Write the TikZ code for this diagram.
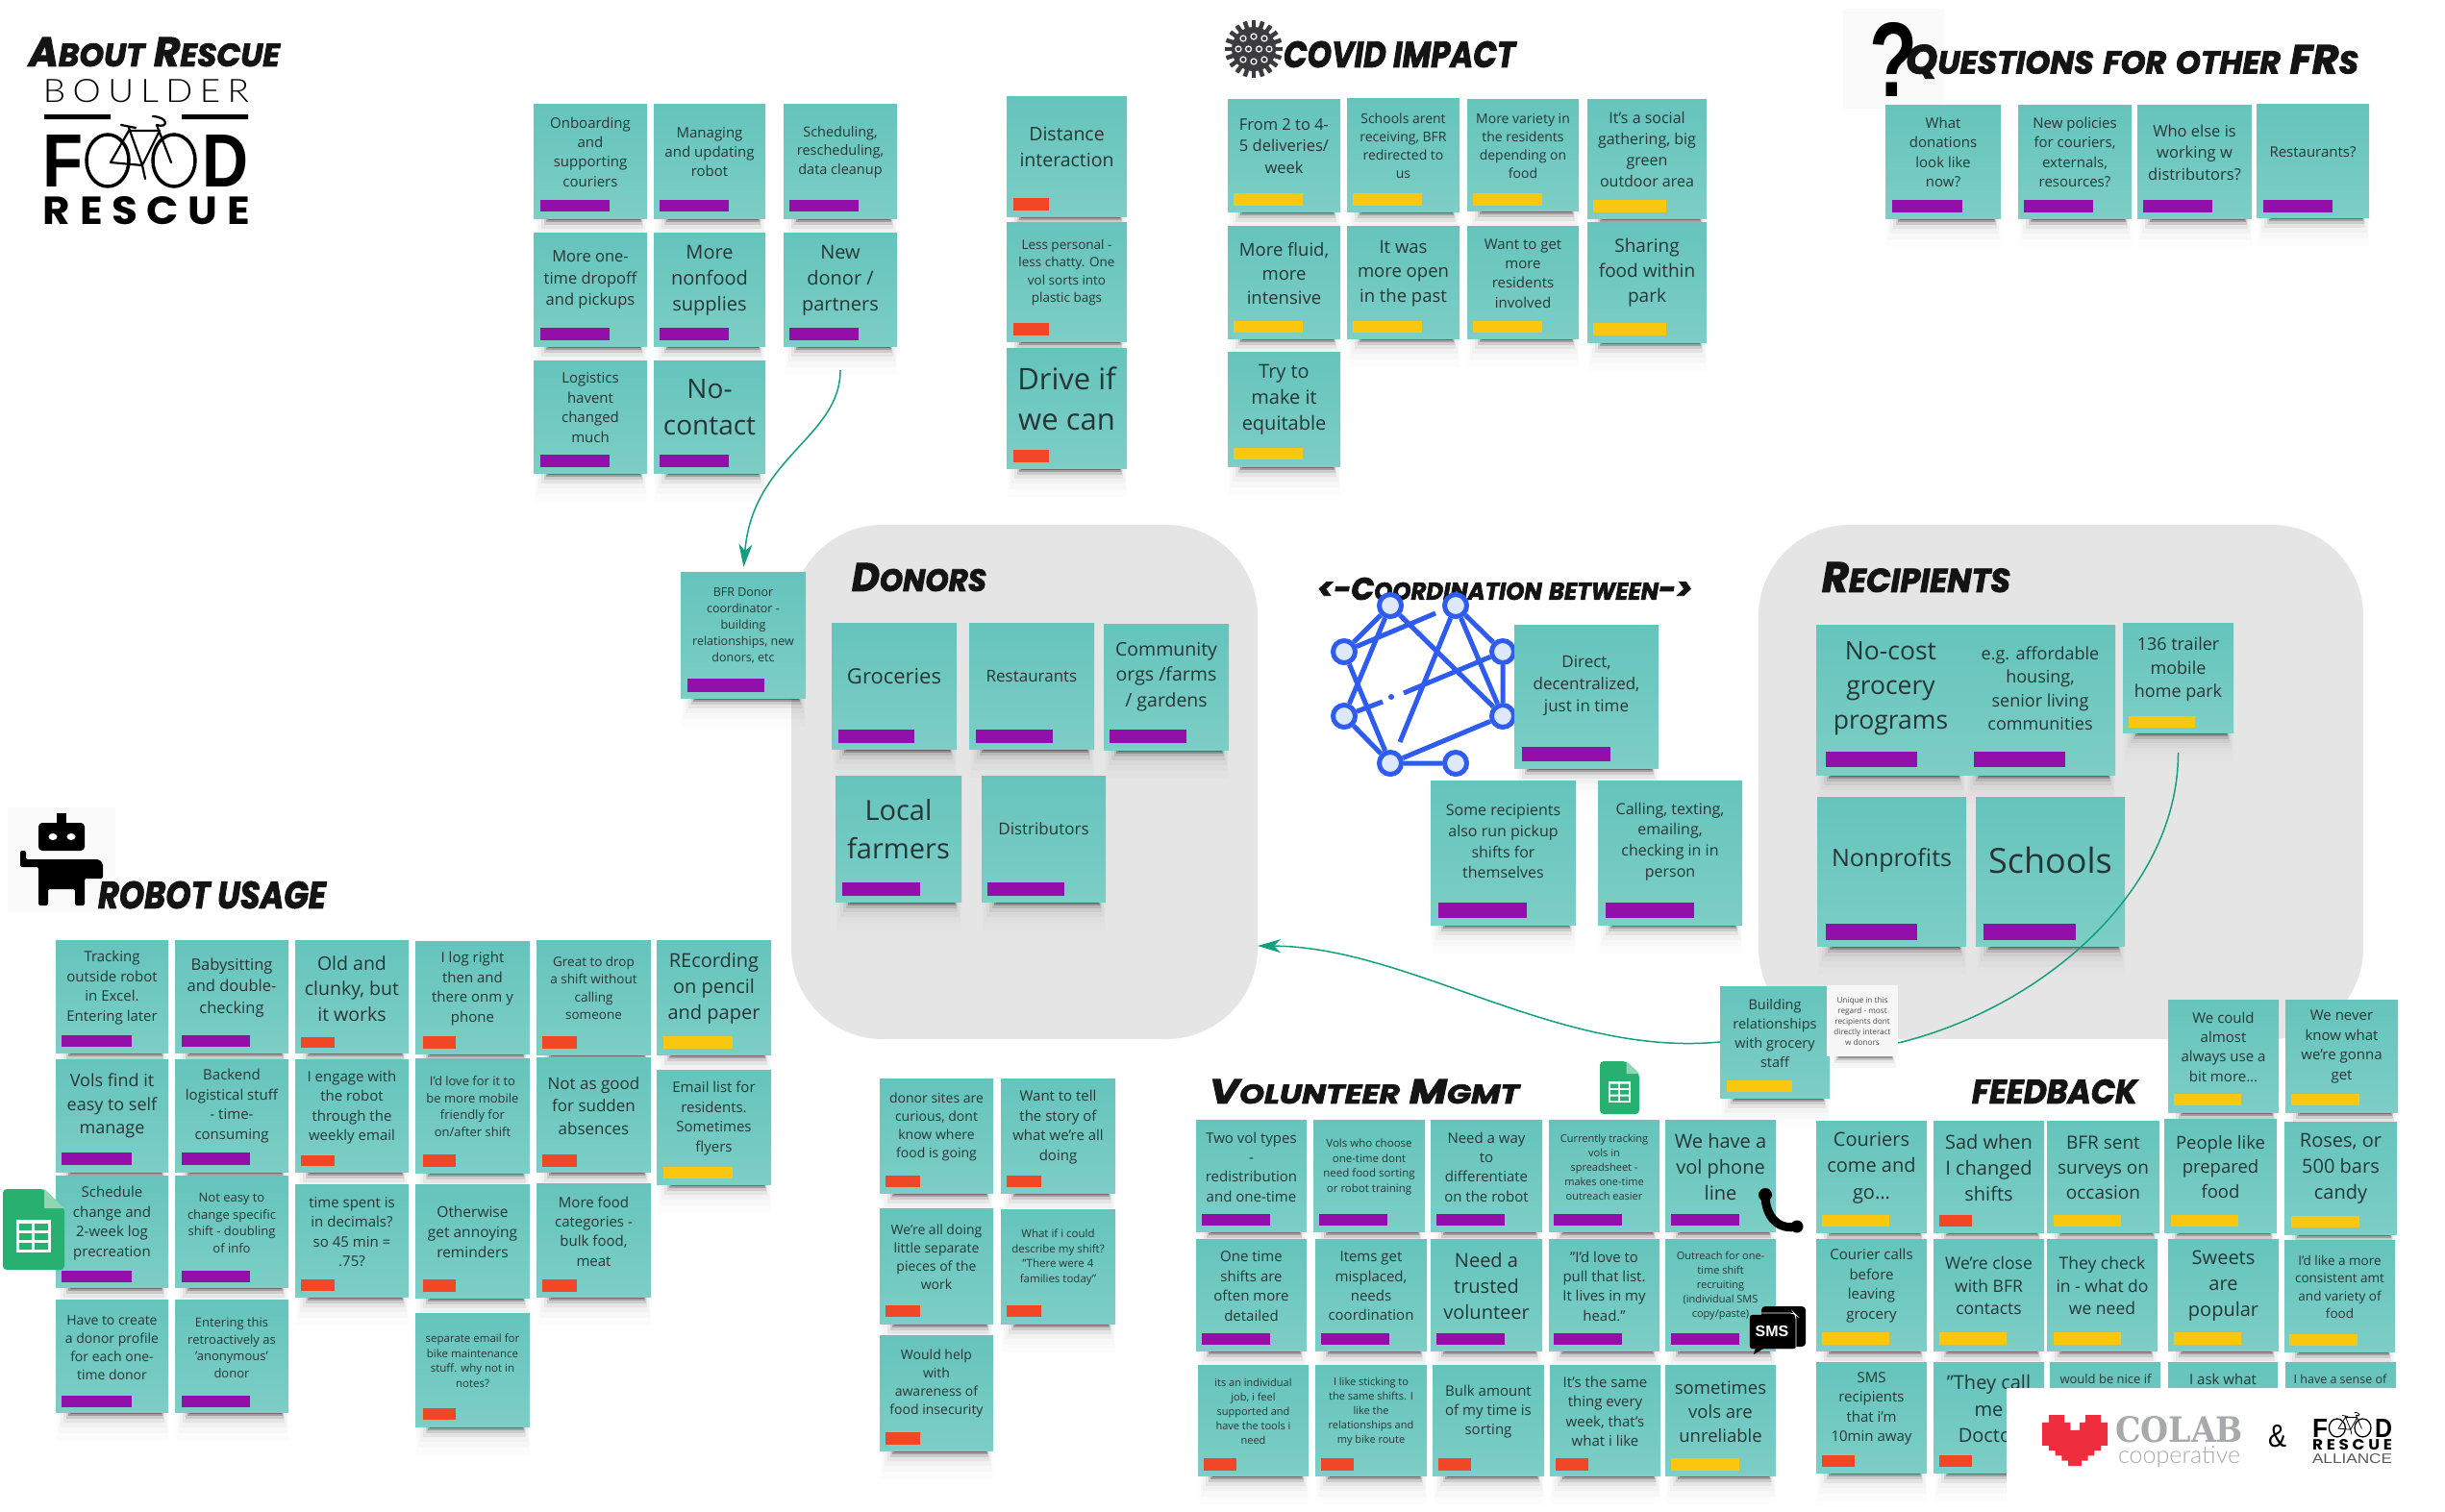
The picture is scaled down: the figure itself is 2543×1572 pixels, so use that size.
\documentclass[tikz,border=0pt]{standalone}
\usepackage{fontspec}
\usepackage{graphicx}
\usetikzlibrary{calc,arrows.meta}
\setmainfont{Open Sans}
\newfontfamily\ttlfont[BoldItalicFeatures={FakeBold=2.5}]{Poppins}
\newfontfamily\lightlogo[LetterSpace=20]{Lato Light}
\newfontfamily\boldlogo[LetterSpace=22]{Poppins}
\newfontfamily\colabf{DejaVu Serif}
\newfontfamily\coopf{Lato Light}
\newfontfamily\heavyf{Liberation Sans}
\definecolor{stop}{HTML}{65C4BC}
\definecolor{sbot}{HTML}{7CCEC6}
\definecolor{stxt}{HTML}{263636}
\definecolor{tagP}{HTML}{9210A9}
\definecolor{tagR}{HTML}{F24726}
\definecolor{tagY}{HTML}{FAC710}
\definecolor{regiongrey}{HTML}{E5E5E5}
\definecolor{link}{HTML}{12A07F}
\definecolor{netblue}{HTML}{2F5CF0}
\definecolor{netpale}{HTML}{DDE8FB}
\definecolor{sheetG}{HTML}{27B06F}
\definecolor{sheetL}{HTML}{8FD6B4}
\definecolor{heart}{HTML}{EE2E3E}
\definecolor{colabgrey}{HTML}{A7A9AC}
\definecolor{virusgrey}{HTML}{3C3C3E}
\definecolor{hatch}{HTML}{FAFAFA}
\tikzset{
 region/.style={fill=regiongrey,rounded corners=95pt,inner sep=0pt,outer sep=0pt},
 stickybg/.style={top color=stop,bottom color=sbot,inner sep=0pt,outer sep=0pt},
 stickytext/.style={text=stxt,align=center,inner sep=0pt},
 tagbox/.style={inner sep=0pt,outer sep=0pt},
 titlenode/.style={inner sep=0pt,outer sep=0pt,text=black!92},
 netnode/.style={circle,draw=netblue,line width=5pt,fill=netpale,minimum size=23pt,inner sep=0pt},
 netline/.style={draw=netblue,line width=5pt},
 connector/.style={draw=link,line width=1.5pt},
 headtip/.style={-{Stealth[length=24pt,width=14pt,inset=7pt]}},
 plain/.style={inner sep=0pt,outer sep=0pt}
}
\def\stkgeo#1,#2,#3,#4,#5,#6,#7,#8;{\def\xa{#1}\def\ya{#2}\def\xb{#3}\def\yb{#4}\def\txa{#5}\def\txb{#6}\def\tya{#7}\def\tyb{#8}}
\newcommand{\shadowstrips}{%
 \foreach \shh/\sho/\shi in {2/.30/15,4/.22/13,7/.10/11,11/.05/8,16/.025/5,22/.015/3,30/.01/1}{%
  \fill[black,opacity=\sho] (\xa+\shi,\yb) rectangle (\xb-\shi*.5,\yb+\shh);}%
}
% geometry, tag colour, size, name, text
\newcommand{\stk}[5]{%
 \stkgeo#1;%
 \shadowstrips
 \pgfmathsetmacro\stkcx{(\xa+\xb)/2}%
 \pgfmathsetmacro\stkcy{(\ya+\yb)/2}%
 \pgfmathsetmacro\stkw{\xb-\xa}%
 \pgfmathsetmacro\stkh{\yb-\ya}%
 \pgfmathsetmacro\stkty{(\ya+\tya)/2}%
 \pgfmathsetmacro\stkls{#3*1.36}%
 \pgfmathsetmacro\tagcx{(\txa+\txb)/2}%
 \pgfmathsetmacro\tagcy{(\tya+\tyb)/2}%
 \pgfmathsetmacro\tagw{\txb-\txa}%
 \pgfmathsetmacro\tagh{\tyb-\tya}%
 \node[stickybg,minimum width=\stkw pt,minimum height=\stkh pt] (#4) at (\stkcx,\stkcy) {};
 \node[tagbox,fill=#2,minimum width=\tagw pt,minimum height=\tagh pt] (#4-tag) at (\tagcx,\tagcy) {};
 \node[stickytext,font=\fontsize{#3}{\stkls}\selectfont] (#4-text) at (\stkcx,\stkty) {#5};
}
% name, x0,y0,x1,y1, text
\newcommand{\ttl}[6]{%
 \pgfmathsetmacro\tcx{(#2+#4)/2}\pgfmathsetmacro\tcy{(#3+#5)/2}%
 \pgfmathsetmacro\tw{#4-#2}\pgfmathsetmacro\th{#5-#3}%
 \node[titlenode] (#1) at (\tcx,\tcy) {\resizebox{\tw pt}{\th pt}{\ttlfont\bfseries\itshape #6}};
}
% plain fitted text: name, x0,y0,x1,y1, content
\newcommand{\fit}[6]{%
 \pgfmathsetmacro\tcx{(#2+#4)/2}\pgfmathsetmacro\tcy{(#3+#5)/2}%
 \pgfmathsetmacro\tw{#4-#2}\pgfmathsetmacro\th{#5-#3}%
 \node[plain] (#1) at (\tcx,\tcy) {\resizebox{\tw pt}{\th pt}{#6}};
}
\newcommand{\ttlow}[2]{#1\scalebox{.78}{\MakeUppercase{#2}}}
% bicycle drawn in the main logo's coordinates
\newcommand{\bikeart}[2]{%
 \draw[black,line width=#1] (112,167) ellipse (22pt and 27pt);
 \draw[black,line width=#1] (181,167) ellipse (22pt and 27pt);
 \draw[black,line width=#2,line cap=round,line join=round]
  (126,130) -- (141,133) (134,133) -- (148,172) -- (166,136) -- (134,136) -- (115,169) -- (148,172) -- (151,186)
  (178,169) -- (163,130) .. controls (175,134) and (176,122) .. (159,121);
}
\newcommand{\sheeticon}[5]{% name, x0,y0, w, h
 \begin{scope}[shift={(#2,#3)},x=#4pt/64,y=-#5pt/84]
  \fill[sheetG,rounded corners=4pt] (0,0) -- (43,0) -- (64,20) -- (64,84) -- (0,84) -- cycle;
  \fill[sheetL] (43,0) -- (64,20) -- (43,20) -- cycle;
  \fill[white] (14,32) rectangle (50,66);
  \fill[sheetG] (17,36) rectangle (30,43) (33,36) rectangle (47,43) (17,46) rectangle (30,53) (33,46) rectangle (47,53) (17,56) rectangle (30,63) (33,56) rectangle (47,63);
  \coordinate (#1) at (32,42);
 \end{scope}
}
\begin{document}
\begin{tikzpicture}[x=1pt,y=-1pt]
\useasboundingbox (0,0) rectangle (2543,1572);
\fill[white] (0,0) rectangle (2543,1572);
% regions
\node[region,minimum width=485pt,minimum height=535pt] (donors) at (1065.5,813.5) {};
\node[region,minimum width=629pt,minimum height=535pt] (recipients) at (2143.5,813.5) {};
% faint icon backgrounds
\fill[hatch] (1917,9) rectangle (2022,113);
\fill[hatch] (8,840) rectangle (120,949);
% logo
\fit{lbould}{45}{83}{259}{107}{\lightlogo BOULDER}
\fill[black] (46,119) rectangle (115,124) (189,119) rectangle (258,124);
\fit{lF}{45}{140}{87}{194}{\heavyf\bfseries F}
\fit{lD}{211}{140}{259}{194}{\heavyf\bfseries D}
\bikeart{3.5pt}{2.2pt}
\fit{lresc}{45}{205}{260}{234}{\boldlogo\bfseries RESCUE}
% titles
\ttl{tAbout}{30}{39}{291}{69}{\ttlow{A}{bout} \ttlow{R}{escue}}
\ttl{tCovid}{1335}{43}{1576}{70}{\MakeUppercase{Covid Impact}}
\ttl{tQ}{1982}{49}{2453}{79}{\ttlow{Q}{uestions} \ttlow{}{for} \ttlow{}{other} \ttlow{FR}{s}}
\ttl{tDon}{886}{586}{1026}{615}{\ttlow{D}{onors}}
\ttl{tRec}{1895}{585}{2091}{616}{\ttlow{R}{ecipients}}
\ttl{tCoord}{1370}{601}{1760}{624}{<-\ttlow{C}{oordination} \ttlow{}{between}->}
\ttl{tRobot}{102}{917}{339}{945}{\MakeUppercase{Robot usage}}
\ttl{tVol}{1258}{1123}{1580}{1148}{\ttlow{V}{olunteer} \ttlow{M}{gmt}}
\ttl{tFeed}{2051}{1123}{2223}{1148}{\MakeUppercase{Feedback}}
% virus icon
\foreach \va in {0,18,...,342}{\draw[virusgrey,line width=4.5pt] (1304,51) ++(\va:18) -- ++(\va:12);}
\node[circle,fill=virusgrey,minimum size=46pt,inner sep=0pt] (virus) at (1304,51) {};
\foreach \vx/\vy in {-11/-11,0/-13,11/-11,-16/0,-5.5/0,5.5/0,16/0,-11/11,0/13,11/11}{\draw[white,line width=1.2pt] (1304+\vx,51+\vy) circle (3pt);}
% question mark
\fit{qmark}{1944}{23}{1994}{100}{\heavyf\bfseries ?}
% robot icon
\fill[black] (59,846) rectangle (69,858);
\fill[black,rounded corners=4pt] (40,856) rectangle (88,885);
\fill[white] (55,870.5) ellipse (4.5pt and 3.5pt) (74,870.5) ellipse (4.5pt and 3.5pt);
\fill[black,rounded corners=2pt] (21,885) -- (27,885) -- (27,894) -- (103,894) -- (107,898) -- (107,914) -- (88,914) -- (88,942) -- (78,942) -- (78,925) -- (50,925) -- (50,942) -- (40,942) -- (40,902) -- (21,902) -- cycle;
% top-left group
\stk{555,108,673,227,562,634,208,220}{tagP}{15}{onboard}{Onboarding\\and\\supporting\\couriers}
\stk{680,108,796,227,686,758,208,220}{tagP}{15}{managing}{Managing\\and updating\\robot}
\stk{815,108,933,227,821,893,208,220}{tagP}{14.5}{sched}{Scheduling,\\rescheduling,\\data cleanup}
\stk{555,242,673,360,562,634,341,354}{tagP}{16.5}{moreone}{More one-\\time dropoff\\and pickups}
\stk{680,242,796,360,686,758,341,354}{tagP}{20}{nonfood}{More\\nonfood\\supplies}
\stk{815,242,933,360,821,893,341,354}{tagP}{20}{newdonor}{New\\donor /\\partners}
\stk{555,375,673,492,562,634,473,486}{tagP}{15}{logist}{Logistics\\havent\\changed\\much}
\stk{680,375,796,492,686,758,473,486}{tagP}{28}{nocontact}{No-\\contact}
% distance
\stk{1047,100,1172,225,1054,1091,206,219}{tagR}{19.5}{distance}{Distance\\interaction}
\stk{1047,231,1172,355,1054,1091,336,349}{tagR}{13.5}{lesspers}{Less personal -\\less chatty. One\\vol sorts into\\plastic bags}
\stk{1047,362,1172,487,1054,1091,468,481}{tagR}{31}{drive}{Drive if\\we can}
% covid
\stk{1277,103,1394,220,1283,1355,201,214}{tagY}{16.5}{cv1}{From 2 to 4-\\5 deliveries/\\week}
\stk{1401,102,1518,220,1407,1479,201,214}{tagY}{14}{cv2}{Schools arent\\receiving, BFR\\redirected to\\us}
\stk{1526,103,1642,219,1532,1604,201,214}{tagY}{14}{cv3}{More variety in\\the residents\\depending on\\food}
\stk{1651,103,1775,227,1657,1733,208,221}{tagY}{16}{cv4}{It's a social\\gathering, big\\green\\outdoor area}
\stk{1277,235,1394,352,1283,1355,334,346}{tagY}{18.5}{cv5}{More fluid,\\more\\intensive}
\stk{1401,235,1518,352,1407,1479,334,346}{tagY}{18.5}{cv6}{It was\\more open\\in the past}
\stk{1526,235,1642,352,1532,1604,334,346}{tagY}{15}{cv7}{Want to get\\more\\residents\\involved}
\stk{1651,231,1775,356,1657,1733,336,349}{tagY}{19}{cv8}{Sharing\\food within\\park}
\stk{1277,366,1394,485,1283,1355,466,478}{tagY}{20}{cv9}{Try to\\make it\\equitable}
% questions
\stk{1961,109,2081,227,1968,2041,208,221}{tagP}{15}{q1}{What\\donations\\look like\\now?}
\stk{2099,109,2217,227,2105,2177,208,221}{tagP}{15}{q2}{New policies\\for couriers,\\externals,\\resources?}
\stk{2223,109,2342,227,2229,2301,208,221}{tagP}{16.5}{q3}{Who else is\\working w\\distributors?}
\stk{2347,108,2464,226,2354,2426,208,221}{tagP}{15}{q4}{Restaurants?}
% donors
\stk{708,595,838,726,715,795,706,720}{tagP}{12.5}{bfr}{BFR Donor\\coordinator -\\building\\relationships, new\\donors, etc}
\stk{865,648,995,779,872,951,759,773}{tagP}{22}{groc}{Groceries}
\stk{1008,648,1138,779,1015,1095,759,773}{tagP}{17}{rest}{Restaurants}
\stk{1148,649,1278,780,1154,1234,759,773}{tagP}{19.5}{comm}{Community\\orgs /farms\\/ gardens}
\stk{869,807,1000,938,876,957,918,932}{tagP}{29}{local}{Local\\farmers}
\stk{1021,807,1150,938,1027,1107,918,932}{tagP}{17}{distr}{Distributors}
% network icon
\node[netnode] (na) at (1446,630) {};
\node[netnode] (nb) at (1514,630) {};
\node[netnode] (nc) at (1398,678) {};
\node[netnode] (nd) at (1563,678) {};
\node[netnode] (ne) at (1398,745) {};
\node[netnode] (nf) at (1563,745) {};
\node[netnode] (ng) at (1446,794) {};
\node[netnode] (nh) at (1514,794) {};
\coordinate (ncb) at (1493,638);
\coordinate (nbg) at (1456,772);
\coordinate (nde) at (1460,721);
\coordinate (ned) at (1438,730);
\coordinate (ndot) at (1447,725);
\path[netline] (na) -- (nc) (na) -- (ne) (na) -- (nf) (nc) -- (ng) (nc) -- (ncb) (nb) -- (nd) (nb) -- (nf) (nd) -- (nf) (nb) -- (nbg) (nd) -- (nde) (ned) -- (ne) (ne) -- (ng) (ng) -- (nf) (ng) -- (nh);
\fill[netblue] (ndot) circle (3pt);
% coordination
\stk{1575,650,1725,799,1583,1675,777,792}{tagP}{17}{direct}{Direct,\\decentralized,\\just in time}
\stk{1488,812,1639,962,1496,1588,939,955}{tagP}{16}{somerec}{Some recipients\\also run pickup\\shifts for\\themselves}
\stk{1662,812,1812,962,1670,1762,939,955}{tagP}{16}{calling}{Calling, texting,\\emailing,\\checking in in\\person}
% recipients
\stk{1889,650,2044,806,1899,1994,782,798}{tagP}{26.5}{nocost}{No-cost\\grocery\\programs}
\stk{2044,650,2200,806,2053,2148,782,798}{tagP}{18}{afford}{e.g. affordable\\housing,\\senior living\\communities}
\stk{2208,648,2323,762,2214,2283,745,757}{tagY}{18}{trailer}{136 trailer\\mobile\\home park}
\stk{1890,829,2045,984,1899,1994,961,978}{tagP}{25}{nonprof}{Nonprofits}
\stk{2055,829,2210,984,2063,2159,961,978}{tagP}{36}{schools}{Schools}
% robot usage
\stk{58,978,175,1095,64,137,1077,1089}{tagP}{15}{r11}{Tracking\\outside robot\\in Excel.\\Entering later}
\stk{182,978,300,1095,189,260,1077,1089}{tagP}{16.5}{r12}{Babysitting\\and double-\\checking}
\stk{307,978,425,1095,313,348,1079,1090}{tagR}{19.5}{r13}{Old and\\clunky, but\\it works}
\stk{432,979,551,1096,440,474,1078,1091}{tagR}{15}{r14}{I log right\\then and\\there onm y\\phone}
\stk{558,978,677,1097,564,600,1078,1091}{tagR}{13.5}{r15}{Great to drop\\a shift without\\calling\\someone}
\stk{683,978,802,1097,690,762,1078,1091}{tagY}{20}{r16}{REcording\\on pencil\\and paper}
\stk{58,1102,175,1219,64,137,1199,1212}{tagP}{18}{r21}{Vols find it\\easy to self\\manage}
\stk{182,1102,300,1219,189,260,1199,1212}{tagP}{15}{r22}{Backend\\logistical stuff\\- time-\\consuming}
\stk{307,1102,425,1219,313,348,1202,1213}{tagR}{15}{r23}{I engage with\\the robot\\through the\\weekly email}
\stk{432,1101,551,1220,440,474,1201,1214}{tagR}{13}{r24}{I'd love for it to\\be more mobile\\friendly for\\on/after shift}
\stk{558,1100,677,1219,564,600,1201,1214}{tagR}{17}{r25}{Not as good\\for sudden\\absences}
\stk{683,1113,802,1232,690,762,1214,1226}{tagY}{15}{r26}{Email list for\\residents.\\Sometimes\\flyers}
\stk{58,1223,175,1339,64,137,1322,1334}{tagP}{15}{r31}{Schedule\\change and\\2-week log\\precreation}
\stk{182,1223,300,1339,189,260,1322,1334}{tagP}{13}{r32}{Not easy to\\change specific\\shift - doubling\\of info}
\stk{307,1232,425,1349,313,348,1331,1343}{tagR}{15}{r33}{time spent is\\in decimals?\\so 45 min =\\.75?}
\stk{432,1232,551,1350,440,474,1331,1344}{tagR}{15.5}{r34}{Otherwise\\get annoying\\reminders}
\stk{558,1231,677,1349,564,600,1331,1344}{tagR}{15}{r35}{More food\\categories -\\bulk food,\\meat}
\stk{58,1352,175,1469,64,137,1452,1464}{tagP}{14}{r41}{Have to create\\a donor profile\\for each one-\\time donor}
\stk{182,1352,300,1469,189,260,1452,1464}{tagP}{13}{r42}{Entering this\\retroactively as\\'anonymous'\\donor}
\stk{432,1366,551,1484,440,474,1465,1477}{tagR}{11.5}{r44}{separate email for\\bike maintenance\\stuff. why not in\\notes?}
\sheeticon{sheet1}{3}{1237}{64}{84}
% middle red group
\stk{915,1122,1033,1241,921,957,1223,1235}{tagR}{14}{m1}{donor sites are\\curious, dont\\know where\\food is going}
\stk{1041,1122,1160,1241,1047,1083,1223,1235}{tagR}{15}{m2}{Want to tell\\the story of\\what we're all\\doing}
\stk{915,1257,1033,1377,921,957,1358,1370}{tagR}{14}{m3}{We're all doing\\little separate\\pieces of the\\work}
\stk{1041,1258,1160,1377,1047,1083,1358,1370}{tagR}{11.5}{m4}{What if i could\\describe my shift?\\"There were 4\\families today"}
\stk{915,1389,1033,1509,921,957,1490,1503}{tagR}{14}{m5}{Would help\\with\\awareness of\\food insecurity}
% building + note
\stk{1789,1026,1903,1142,1796,1864,1124,1136}{tagY}{14.5}{building}{Building\\relationships\\with grocery\\staff}
\stkgeo 1900,1025,1974,1099,0,0,0,0;
\foreach \shh/\sho/\shi in {2/.25/12,4/.15/10,7/.06/8,12/.03/5}{\fill[black,opacity=\sho] (\xa+\shi,\yb) rectangle (\xb-\shi*.5,\yb+\shh);}
\node[plain,fill=white!97!black,minimum width=74pt,minimum height=74pt] (note) at (1937,1062) {};
\node[text=black!70,align=center,inner sep=0pt,font=\fontsize{8.2}{11}\selectfont] (note-text) at (1937,1062) {Unique in this\\regard - most\\recipients dont\\directly interact\\w donors};
% volunteer mgmt
\stk{1244,1165,1359,1281,1250,1321,1263,1275}{tagP}{15}{v11}{Two vol types\\-\\redistribution\\and one-time}
\stk{1366,1165,1482,1281,1372,1443,1263,1275}{tagP}{11.5}{v12}{Vols who choose\\one-time dont\\need food sorting\\or robot training}
\stk{1488,1165,1604,1281,1494,1565,1263,1275}{tagP}{15}{v13}{Need a way\\to\\differentiate\\on the robot}
\stk{1611,1165,1726,1281,1616,1687,1263,1275}{tagP}{11}{v14}{Currently tracking\\vols in\\spreadsheet -\\makes one-time\\outreach easier}
\stk{1732,1165,1847,1281,1738,1809,1263,1275}{tagP}{20}{v15}{We have a\\vol phone\\line}
\stk{1244,1289,1359,1405,1250,1321,1387,1399}{tagP}{15}{v21}{One time\\shifts are\\often more\\detailed}
\stk{1368,1289,1484,1405,1374,1445,1387,1399}{tagP}{15}{v22}{Items get\\misplaced,\\needs\\coordination}
\stk{1488,1289,1604,1405,1494,1565,1387,1399}{tagP}{20}{v23}{Need a\\trusted\\volunteer}
\stk{1611,1289,1726,1405,1616,1687,1387,1399}{tagP}{15}{v24}{"I'd love to\\pull that list.\\It lives in my\\head."}
\stk{1732,1289,1847,1405,1738,1809,1387,1399}{tagP}{11}{v25}{Outreach for one-\\time shift\\recruiting\\(individual SMS\\copy/paste)}
\stk{1246,1420,1361,1535,1252,1286,1517,1530}{tagR}{11}{v31}{its an individual\\job, i feel\\supported and\\have the tools i\\need}
\stk{1368,1420,1484,1535,1374,1408,1517,1530}{tagR}{11}{v32}{I like sticking to\\the same shifts. I\\like the\\relationships and\\my bike route}
\stk{1490,1420,1606,1535,1496,1530,1517,1530}{tagR}{15}{v33}{Bulk amount\\of my time is\\sorting}
\stk{1612,1420,1727,1535,1618,1652,1517,1530}{tagR}{15}{v34}{It's the same\\thing every\\week, that's\\what i like}
\stk{1732,1420,1847,1535,1738,1809,1517,1530}{tagY}{18.5}{v35}{sometimes\\vols are\\unreliable}
\sheeticon{sheet2}{1664}{1104}{41}{55}
% phone
\draw[black,line width=9pt,line cap=round] (1836,1243) .. controls (1836,1268) and (1852,1280) .. (1869,1276);
\fill[black] (1836,1243) circle (7pt) (1869,1276) circle (6.5pt);
% feedback
\stk{2255,1040,2370,1157,2261,2331,1138,1150}{tagY}{15}{f01}{We could\\almost\\always use a\\bit more...}
\stk{2377,1040,2494,1157,2383,2454,1138,1150}{tagY}{15}{f02}{We never\\know what\\we're gonna\\get}
\stk{1889,1166,2004,1282,1895,1965,1264,1276}{tagY}{20}{f11}{Couriers\\come and\\go...}
\stk{2011,1166,2126,1282,2017,2051,1264,1276}{tagR}{20}{f12}{Sad when\\I changed\\shifts}
\stk{2129,1166,2246,1282,2136,2206,1264,1276}{tagY}{19}{f13}{BFR sent\\surveys on\\occasion}
\stk{2251,1164,2368,1282,2258,2328,1264,1276}{tagY}{18.5}{f14}{People like\\prepared\\food}
\stk{2376,1167,2493,1284,2383,2454,1265,1277}{tagY}{20}{f15}{Roses, or\\500 bars\\candy}
\stk{1889,1289,2004,1405,1895,1965,1386,1399}{tagY}{15}{f21}{Courier calls\\before\\leaving\\grocery}
\stk{2011,1289,2126,1405,2017,2087,1386,1399}{tagY}{17.5}{f22}{We're close\\with BFR\\contacts}
\stk{2129,1289,2244,1405,2136,2206,1386,1399}{tagY}{17.5}{f23}{They check\\in - what do\\we need}
\stk{2255,1289,2370,1405,2261,2331,1386,1399}{tagY}{20}{f24}{Sweets\\are\\popular}
\stk{2376,1290,2491,1406,2381,2452,1388,1400}{tagY}{13.5}{f25}{I'd like a more\\consistent amt\\and variety of\\food}
\stk{1889,1417,2004,1532,1895,1929,1514,1526}{tagR}{15}{f31}{SMS\\recipients\\that i'm\\10min away}
\stk{2011,1417,2126,1532,2017,2051,1514,1526}{tagR}{20}{f32}{"They call\\me\\Doctor}
\stk{2132,1417,2247,1532,2140,2210,1514,1526}{tagY}{13}{f33}{}
\stk{2255,1417,2369,1532,2261,2331,1514,1526}{tagY}{15}{f34}{}
\stk{2377,1417,2492,1532,2383,2454,1514,1526}{tagY}{12.5}{f35}{}
\node[stickytext,font=\fontsize{13}{18}\selectfont] (f33-line) at (2190,1435) {would be nice if};
\node[stickytext,font=\fontsize{15}{20}\selectfont] (f34-line) at (2312,1435) {I ask what};
\node[stickytext,font=\fontsize{12.5}{17}\selectfont] (f35-line) at (2434,1435) {I have a sense of};
% connectors
\draw[connector,headtip,shorten <=25pt,shorten >=5pt] (newdonor.south) .. controls +(0,95) and +(10,-120) .. (bfr.north);
\draw[connector,headtip] (building.west) .. controls +(-169,16) and +(159,1) .. (donors.east |- 0,984);
\draw[connector,shorten <=21pt] (trailer.south) .. controls +(0,167) and +(146,-35) .. ($(note.east)+(0,23)$);
% SMS icon
\fill[black,rounded corners=4pt] (1832,1359) rectangle (1878,1401);
\draw[black,fill=black,rounded corners=3pt] (1820,1368) rectangle (1868,1403);
\draw[white,line width=.8pt,rounded corners=4pt] (1832,1366) -- (1866,1366) -- (1868,1368) -- (1868,1403);
\fill[black] (1826,1402) -- (1836,1402) -- (1824,1409) -- cycle;
\node[text=white,inner sep=0pt,font=\heavyf\bfseries\fontsize{16}{18}\selectfont] (sms) at (1843,1385) {SMS};
% logo panel
\fill[white] (2087,1444) rectangle (2543,1572);
\begin{scope}[shift={(2124,1472)},x=6.8pt,y=-5.3pt]
\fill[heart] (1,0) -- (3.4,0) -- (3.4,1.5) -- (4.3,1.5) -- (4.3,3) -- (5.7,3) -- (5.7,1.5) -- (6.6,1.5) -- (6.6,0) -- (9,0) -- (9,1.5) -- (10,1.5) -- (10,6) -- (9,6) -- (9,7) -- (8,7) -- (8,8) -- (7,8) -- (7,9) -- (6,9) -- (6,10) -- (4,10) -- (4,9) -- (3,9) -- (3,8) -- (2,8) -- (2,7) -- (1,7) -- (1,6) -- (0,6) -- (0,1.5) -- (1,1.5) -- cycle;
\end{scope}
\fit{colab}{2200}{1474}{2333}{1501}{\color{colabgrey}\colabf\bfseries COLAB}
\fit{coop}{2203}{1507}{2330}{1525}{\color{colabgrey}\coopf cooperative}
\fit{amp}{2359}{1483}{2378}{1506}{\heavyf\&}
\fit{aF}{2405}{1476}{2421}{1495}{\heavyf\bfseries F}
\fit{aD}{2470}{1476}{2488}{1495}{\heavyf\bfseries D}
\begin{scope}[shift={(2387.6,1427)},xscale=.386,yscale=.35]
\bikeart{1.3pt}{.8pt}
\end{scope}
\fit{aresc}{2405}{1498}{2488}{1509}{\boldlogo\bfseries RESCUE}
\fit{aall}{2405}{1513}{2488}{1523}{\color{black!65}\heavyf ALLIANCE}
\end{tikzpicture}
\end{document}
